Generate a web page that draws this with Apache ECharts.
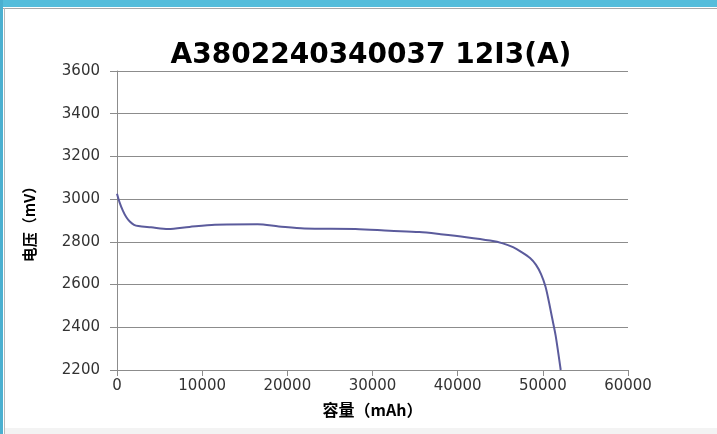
<!DOCTYPE html>
<html>
<head>
<meta charset="utf-8">
<title>A3802240340037 12I3(A)</title>
<script src="https://cdn.jsdelivr.net/npm/echarts@6/dist/echarts.min.js"></script>
<style>
    html, body { margin: 0; padding: 0; background: #ffffff; }
    #main { width: 717px; height: 434px; }
</style>
</head>
<body>
<div id="main"></div>
<script>
// 容量 (mAh)
var capacity = [0, 300, 700, 1100, 1500, 2000, 2500, 4000, 6000, 8500, 11500, 16500, 19000, 22000,
    28000, 32000, 35500, 38000, 41000, 43800, 45300, 46500, 47500, 48500, 49200, 49800, 50300,
    50700, 51100, 51500, 52100];
// 电压 (mV)
var voltage = [3025, 2985, 2945, 2915, 2895, 2880, 2874, 2868, 2860, 2870, 2880, 2882, 2872, 2862,
    2860, 2852, 2846, 2836, 2822, 2806, 2793, 2775, 2752, 2724, 2692, 2648, 2592,
    2522, 2442, 2362, 2200];

var titleText = 'A3802240340037 12I3(A)';
var xName = '容量（mAh）';
var yName = '电压（mV）';

var points = [];
for (var i = 0; i < capacity.length; i++) {
    points.push([capacity[i], voltage[i]]);
}

var dom = document.getElementById('main');
var myChart = echarts.init(dom, null, { renderer: 'canvas' });
var option = {
    backgroundColor: '#ffffff',
    animation: false,
    title: {
        text: titleText,
        left: 366,
        textAlign: 'center',
        top: 37,
        textStyle: {
            fontFamily: 'DejaVu Sans',
            fontWeight: 'bold',
            fontSize: 28,
            color: '#000000'
        }
    },
    graphic: [
        // 窗口边框
        { type: 'rect', left: 0, top: 0, shape: { width: 717, height: 7 }, style: { fill: '#55bddb' }, silent: true },
        { type: 'rect', left: 0, top: 0, shape: { width: 3, height: 434 }, style: { fill: '#4bb0d0' }, silent: true },
        { type: 'rect', left: 3, top: 8, shape: { width: 714, height: 1 }, style: { fill: '#a8a8a8' }, silent: true },
        { type: 'rect', left: 4, top: 8, shape: { width: 1, height: 426 }, style: { fill: '#b8b8b8' }, silent: true },
        { type: 'rect', left: 5, top: 428, shape: { width: 712, height: 6 }, style: { fill: '#f3f3f3' }, silent: true }
    ],
    grid: {
        left: 117,
        right: 89,
        top: 71,
        bottom: 64
    },
    xAxis: {
        type: 'value',
        min: 0,
        max: 60000,
        interval: 10000,
        name: xName,
        nameLocation: 'middle',
        nameGap: 32,
        nameTextStyle: {
            fontFamily: 'Noto Sans CJK SC',
            fontWeight: 'bold',
            fontSize: 16,
            color: '#000000'
        },
        axisLine: { show: true, onZero: false, lineStyle: { color: '#8c8c8c', width: 1 } },
        axisTick: { show: true, inside: false, length: 6, lineStyle: { color: '#8c8c8c' } },
        axisLabel: {
            margin: 9,
            fontFamily: 'DejaVu Sans',
            fontSize: 15,
            color: '#333333',
            formatter: function (v) { return String(v); }
        },
        splitLine: { show: false }
    },
    yAxis: {
        type: 'value',
        min: 2200,
        max: 3600,
        interval: 200,
        name: yName,
        nameLocation: 'middle',
        nameGap: 80,
        nameTextStyle: {
            fontFamily: 'Noto Sans CJK SC',
            fontWeight: 'bold',
            fontSize: 15,
            color: '#000000'
        },
        axisLine: { show: true, lineStyle: { color: '#8c8c8c', width: 1 } },
        axisTick: { show: true, inside: false, length: 7, lineStyle: { color: '#8c8c8c' } },
        axisLabel: {
            margin: 17,
            fontFamily: 'DejaVu Sans',
            fontSize: 15,
            color: '#333333',
            formatter: function (v) { return String(v); }
        },
        splitLine: { show: true, lineStyle: { color: '#8c8c8c', width: 1 } }
    },
    series: [{
        name: yName,
        type: 'line',
        data: points,
        smooth: 0.3,
        showSymbol: false,
        lineStyle: { color: '#5b5b9c', width: 2 },
        itemStyle: { color: '#5b5b9c' }
    }]
};
if (option && typeof option === "object") {
    myChart.setOption(option, true);
}
</script>
</body>
</html>
